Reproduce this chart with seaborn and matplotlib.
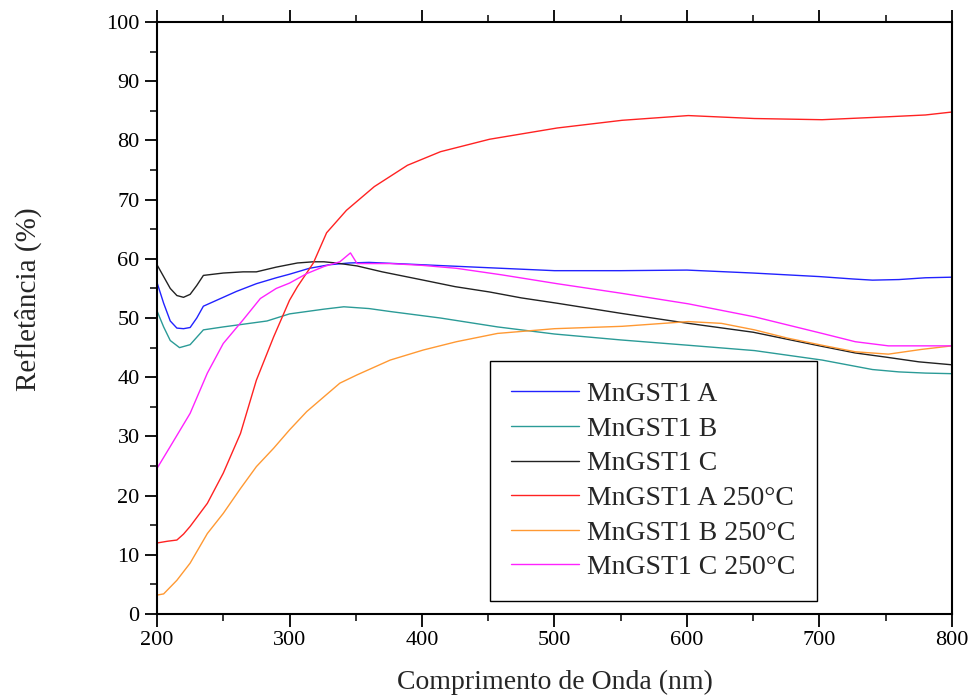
import numpy as np
import pandas as pd
import matplotlib
matplotlib.use("Agg")
import matplotlib.pyplot as plt
import seaborn as sns

# valores (comprimento de onda em nm, refletancia em %)
wl_a = [200, 205, 210, 215, 220, 225, 230, 235, 245, 260, 275, 290, 300, 315, 330, 345, 360, 380, 400,
        450, 500, 550, 600, 650, 700, 725, 740, 760, 780, 800]
refl_a = [56.0, 52.5, 49.5, 48.3, 48.2, 48.4, 50.0, 52.0, 53.0, 54.5, 55.8, 56.8, 57.4, 58.4, 59.0, 59.3, 59.4, 59.2, 59.0,
          58.5, 58.0, 58.0, 58.1, 57.6, 57.0, 56.6, 56.4, 56.5, 56.8, 56.9]

wl_b = [200, 205, 210, 217, 225, 235, 250, 260, 283, 300, 326, 341, 360, 376, 414, 457, 500, 550, 601,
        651, 702, 740, 760, 780, 800]
refl_b = [51.2, 48.5, 46.2, 45.0, 45.5, 48.0, 48.5, 48.8, 49.5, 50.7, 51.5, 51.9, 51.6, 51.1, 50.0, 48.5, 47.3, 46.3, 45.4,
          44.5, 42.9, 41.3, 40.9, 40.7, 40.6]

wl_c = [200, 205, 210, 215, 220, 225, 230, 235, 250, 265, 275, 290, 306, 318, 326, 335, 351, 370, 401,
        425, 451, 475, 502, 550, 601, 650, 676, 700, 727, 750, 775, 800]
refl_c = [59.0, 57.0, 55.0, 53.8, 53.5, 54.0, 55.5, 57.2, 57.6, 57.8, 57.8, 58.6, 59.3, 59.5, 59.5, 59.3, 58.8, 57.8, 56.4,
          55.3, 54.4, 53.4, 52.5, 50.8, 49.1, 47.6, 46.4, 45.3, 44.1, 43.4, 42.6, 42.1]

wl_a250 = [200, 208, 215, 220, 225, 238, 250, 263, 275, 288, 300, 306, 318, 328, 343, 364, 389, 414, 451,
           502, 551, 601, 651, 702, 752, 780, 800]
refl_a250 = [12.0, 12.3, 12.5, 13.5, 14.8, 18.7, 23.8, 30.5, 39.5, 46.8, 53.0, 55.3, 59.3, 64.4, 68.2, 72.2, 75.8, 78.1, 80.2,
             82.1, 83.4, 84.2, 83.7, 83.5, 84.0, 84.3, 84.8]

wl_b250 = [200, 205, 215, 225, 238, 250, 263, 275, 288, 300, 313, 326, 338, 351, 376, 401, 426, 457, 500,
           551, 601, 626, 651, 676, 702, 727, 752, 777, 800]
refl_b250 = [3.2, 3.4, 5.7, 8.6, 13.6, 17.0, 21.2, 24.9, 28.0, 31.1, 34.2, 36.7, 39.0, 40.4, 42.9, 44.6, 46.0, 47.4, 48.2,
             48.6, 49.4, 49.1, 48.0, 46.6, 45.4, 44.3, 43.9, 44.7, 45.3]

wl_c250 = [200, 210, 225, 238, 250, 265, 278, 290, 300, 313, 326, 338, 346, 351, 376, 400, 426, 460, 502,
           550, 601, 651, 702, 727, 752, 775, 800]
refl_c250 = [24.6, 28.3, 33.9, 40.7, 45.7, 49.7, 53.3, 55.0, 55.9, 57.5, 58.7, 59.5, 61.0, 59.2, 59.2, 58.9, 58.4, 57.3, 55.8,
             54.2, 52.4, 50.2, 47.4, 46.0, 45.3, 45.3, 45.3]

names = ["MnGST1 A", "MnGST1 B", "MnGST1 C", "MnGST1 A 250°C", "MnGST1 B 250°C", "MnGST1 C 250°C"]
cores = ["#2222ff", "#2b9b97", "#222222", "#ff2222", "#ff9933", "#ff22ff"]

series = [(wl_a, refl_a), (wl_b, refl_b), (wl_c, refl_c),
          (wl_a250, refl_a250), (wl_b250, refl_b250), (wl_c250, refl_c250)]
frames = []
for n, (x, y) in zip(names, series):
    frames.append(pd.DataFrame({"wl": x, "refl": y, "amostra": n}))
df = pd.concat(frames, ignore_index=True)

sns.set_style("ticks")
plt.rcParams['font.family'] = ['Liberation Serif', 'DejaVu Serif']

fig = plt.figure(figsize=(9.71, 6.95), dpi=100)
ax = fig.add_axes([0.1617, 0.1165, 0.8187, 0.8518])

sns.lineplot(data=df, x="wl", y="refl", hue="amostra", hue_order=names,
             palette=dict(zip(names, cores)), estimator=None, sort=False,
             linewidth=1.0, ax=ax)

ax.set_xlim(200, 800)
ax.set_ylim(0, 100)
ax.set_xticks(np.arange(200, 801, 100))
ax.set_xticks(np.arange(250, 800, 100), minor=True)
ax.set_yticks(np.arange(0, 101, 10))
ax.set_yticks(np.arange(5, 100, 10), minor=True)

for s in ax.spines.values():
    s.set_linewidth(1.5)
    s.set_color("black")

ax.tick_params(which="major", direction="out", length=9, width=1.3, labelsize=16,
               top=True, right=False, labeltop=False, colors="black")
ax.tick_params(which="minor", direction="out", length=5, width=1.3,
               top=True, right=False)

ax.set_xlabel("Comprimento de Onda (nm)", fontsize=20, labelpad=14)
ax.set_ylabel("Refletância (%)", fontsize=21, labelpad=46, y=0.532)

leg = ax.legend(loc="lower left", bbox_to_anchor=(0.419, 0.022), fontsize=20,
                frameon=True, fancybox=False, edgecolor="black", framealpha=1,
                handlelength=2.45, handletextpad=0.3, labelspacing=0.33,
                borderpad=0.75, borderaxespad=0)
leg.get_frame().set_linewidth(1.0)
leg.set_title(None)

fig.savefig("out.png", dpi=100)
